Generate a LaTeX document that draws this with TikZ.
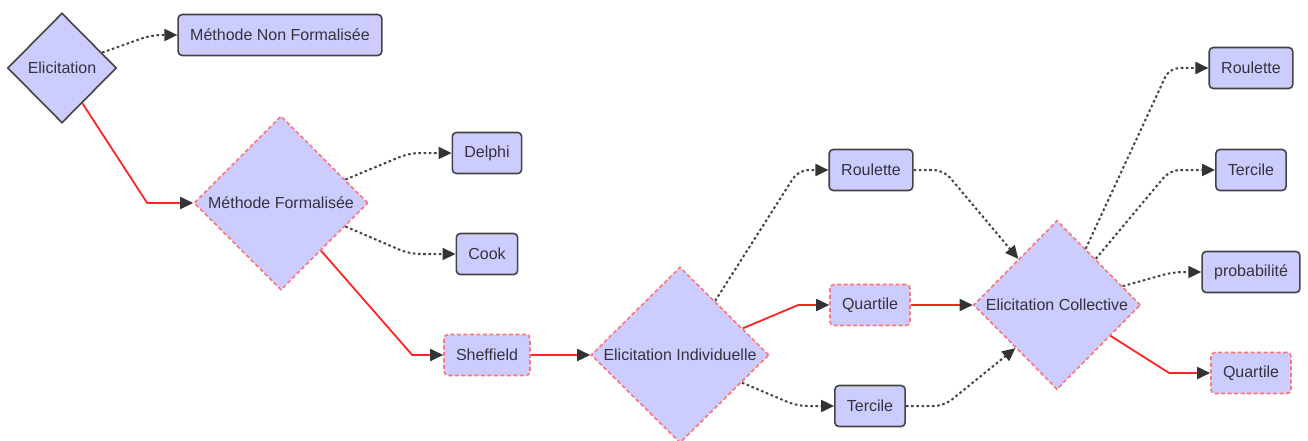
\documentclass[tikz,border=0pt]{standalone}
\usepackage{fontspec}
\setmainfont{Liberation Sans}
\usetikzlibrary{arrows.meta,shapes.geometric}
\definecolor{lilac}{HTML}{CCCCFF}
\definecolor{rim}{HTML}{444444}
\definecolor{hot}{HTML}{FF2424}
\definecolor{soft}{HTML}{FF7474}
\definecolor{tipgray}{HTML}{333333}
\definecolor{words}{HTML}{33333F}
\tikzset{basenode/.style={fill=lilac,text=words,font=\fontsize{16}{19}\selectfont,line width=1.6pt},plainbox/.style={basenode,draw=rim,rounded corners=4pt,inner xsep=12pt,minimum height=41pt},keybox/.style={basenode,draw=soft,dash pattern=on 4pt off 2.5pt,rounded corners=4pt,inner xsep=12pt,minimum height=41pt},plaindiamond/.style={basenode,diamond,draw=rim,inner sep=0pt},keydiamond/.style={basenode,diamond,draw=soft,dash pattern=on 4pt off 2.5pt,inner sep=0pt},dottedlink/.style={draw=rim,line width=2pt,dash pattern=on 2.6pt off 2.6pt,rounded corners=10pt,-{Triangle[length=13pt,width=12pt,color=tipgray]}},redlink/.style={draw=hot,line width=1.8pt,-{Triangle[length=13pt,width=12pt,color=tipgray]}}}

\begin{document}
\begin{tikzpicture}[x=1pt,y=-1pt]
\useasboundingbox (0,0) rectangle (1308,441);
\node[plaindiamond,minimum width=109pt,minimum height=110pt] (elic) at (62,68) {Elicitation};
\node[plainbox] (nonform) at (280,35) {Méthode Non Formalisée};
\node[keydiamond,minimum width=174pt,minimum height=174pt] (form) at (281,203) {Méthode Formalisée};
\node[plainbox] (delphi) at (487,153) {Delphi};
\node[plainbox] (cook) at (487,254) {Cook};
\node[keybox] (sheff) at (487,355) {Sheffield};
\node[keydiamond,minimum width=178pt,minimum height=176pt] (indiv) at (680,355) {Elicitation Individuelle};
\node[plainbox] (roulA) at (871,170) {Roulette};
\node[keybox] (quartA) at (870,305) {Quartile};
\node[plainbox] (tercA) at (870,406) {Tercile};
\node[keydiamond,minimum width=167pt,minimum height=169pt] (coll) at (1057,305) {Elicitation Collective};
\node[plainbox] (roulB) at (1251,68) {Roulette};
\node[plainbox] (tercB) at (1251,170) {Tercile};
\node[plainbox] (proba) at (1251,272) {probabilité};
\node[keybox] (quartB) at (1251,373) {Quartile};

\draw[dottedlink] (elic.21) -- ([xshift=-26pt]nonform.west) -- (nonform.west);
\draw[redlink] (elic.-60) -- ([xshift=-46pt]form.west) -- (form.west);
\draw[dottedlink] (form.20) -- ([xshift=-42pt]delphi.west) -- (delphi.west);
\draw[dottedlink] (form.-20) -- ([xshift=-46pt]cook.west) -- (cook.west);
\draw[redlink] (form.-50) -- ([xshift=-31pt]sheff.west) -- (sheff.west);
\draw[redlink] (sheff) -- (indiv);
\draw[dottedlink] (indiv.57) -- ([xshift=-30pt]roulA.west) -- (roulA.west);
\draw[redlink] (indiv.23) -- ([xshift=-31pt]quartA.west) -- (quartA.west);
\draw[dottedlink] (indiv.-24) -- ([xshift=-37pt]tercA.west) -- (tercA.west);
\draw[dottedlink] (roulA.east) -- ([xshift=30pt]roulA.east) -- (coll.130);
\draw[redlink] (quartA) -- (coll);
\draw[dottedlink] (tercA.east) -- ([xshift=38pt]tercA.east) -- (coll.-134);
\draw[dottedlink] (coll.63) -- ([xshift=-39pt]roulB.west) -- (roulB.west);
\draw[dottedlink] (coll.50) -- ([xshift=-45pt]tercB.west) -- (tercB.west);
\draw[dottedlink] (coll.16) -- ([xshift=-28pt]proba.west) -- (proba.west);
\draw[redlink] (coll.-30) -- ([xshift=-41pt]quartB.west) -- (quartB.west);
\end{tikzpicture}
\end{document}
